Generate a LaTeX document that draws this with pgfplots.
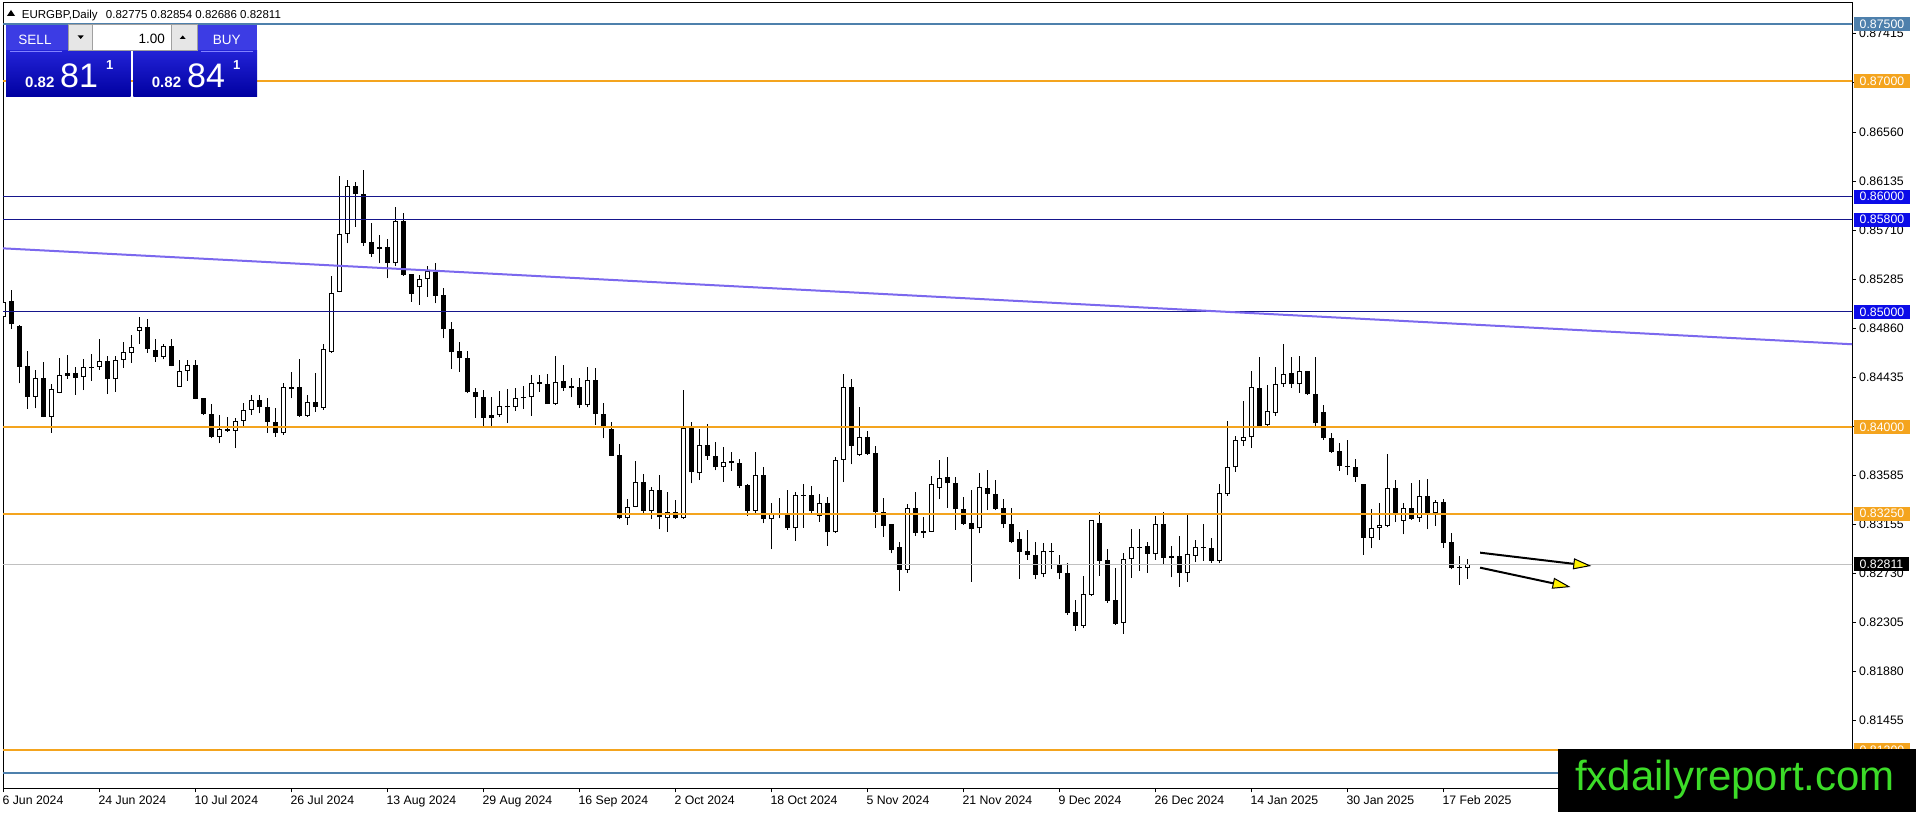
\documentclass[border=0pt]{standalone}
\usepackage{fontspec}
\setmainfont{Liberation Sans}
\usepackage{pgfplots}
\pgfplotsset{compat=1.18}
\usepackage{pgfplotstable}
\usetikzlibrary{arrows.meta}

\definecolor{lvlorange}{RGB}{244,164,30}
\definecolor{lvlnavy}{RGB}{22,22,140}
\definecolor{lvlblue}{RGB}{12,12,232}
\definecolor{steel}{RGB}{78,128,172}
\definecolor{trend}{RGB}{123,104,238}
\definecolor{bidgrey}{RGB}{192,192,192}
\definecolor{wmgreen}{RGB}{60,220,40}
\definecolor{paneltop}{RGB}{60,60,228}
\definecolor{panelmid}{RGB}{34,34,214}
\definecolor{panelbot}{RGB}{0,0,160}
\definecolor{panelline}{RGB}{130,130,255}
\definecolor{btngrey}{RGB}{230,230,230}
\definecolor{btnborder}{RGB}{160,160,160}

\newcommand{\tickfont}{\fontsize{12.3}{14}\selectfont}

\pgfplotstableread{
i O H L C
0 0.84959 0.85234 0.84948 0.85089
1 0.85095 0.85191 0.84852 0.84893
2 0.84878 0.84887 0.84381 0.84525
3 0.84531 0.84664 0.84158 0.84265
4 0.84265 0.84497 0.84164 0.84425
5 0.84428 0.84566 0.84085 0.84092
6 0.84092 0.84375 0.83953 0.84329
7 0.84300 0.84598 0.84294 0.84451
8 0.84448 0.84627 0.84419 0.84468
9 0.84468 0.84525 0.84280 0.84430
10 0.84434 0.84589 0.84323 0.84520
11 0.84525 0.84635 0.84404 0.84516
12 0.84525 0.84766 0.84497 0.84574
13 0.84574 0.84618 0.84288 0.84416
14 0.84416 0.84618 0.84308 0.84583
15 0.84583 0.84740 0.84516 0.84650
16 0.84647 0.84801 0.84560 0.84694
17 0.84838 0.84954 0.84722 0.84867
18 0.84867 0.84936 0.84647 0.84676
19 0.84673 0.84763 0.84568 0.84612
20 0.84612 0.84722 0.84589 0.84705
21 0.84705 0.84766 0.84528 0.84531
22 0.84352 0.84583 0.84350 0.84486
23 0.84486 0.84583 0.84404 0.84537
24 0.84537 0.84583 0.84242 0.84248
25 0.84254 0.84258 0.84105 0.84113
26 0.84115 0.84201 0.83904 0.83918
27 0.83918 0.84107 0.83861 0.83985
28 0.83982 0.84087 0.83961 0.83967
29 0.83970 0.84078 0.83818 0.84057
30 0.84057 0.84207 0.84005 0.84150
31 0.84150 0.84280 0.84107 0.84236
32 0.84236 0.84280 0.84121 0.84173
33 0.84173 0.84251 0.83953 0.84048
34 0.84048 0.84164 0.83918 0.83947
35 0.83947 0.84381 0.83933 0.84352
36 0.84352 0.84480 0.84251 0.84329
37 0.84352 0.84592 0.84092 0.84098
38 0.84101 0.84280 0.84092 0.84216
39 0.84216 0.84468 0.84135 0.84173
40 0.84169 0.84722 0.84150 0.84676
41 0.84655 0.85312 0.84647 0.85162
42 0.85176 0.86179 0.85170 0.85676
43 0.85676 0.86145 0.85595 0.86093
44 0.86093 0.86130 0.85740 0.86021
45 0.86021 0.86231 0.85572 0.85601
46 0.85607 0.85769 0.85480 0.85503
47 0.85544 0.85668 0.85422 0.85561
48 0.85561 0.85630 0.85292 0.85422
49 0.85422 0.85913 0.85399 0.85792
50 0.85792 0.85855 0.85315 0.85321
51 0.85327 0.85330 0.85089 0.85154
52 0.85214 0.85321 0.85061 0.85286
53 0.85286 0.85399 0.85133 0.85355
54 0.85349 0.85422 0.85075 0.85141
55 0.85147 0.85206 0.84772 0.84850
56 0.84850 0.84910 0.84506 0.84650
57 0.84661 0.84737 0.84482 0.84598
58 0.84598 0.84661 0.84294 0.84303
59 0.84303 0.84338 0.84083 0.84260
60 0.84260 0.84323 0.84005 0.84083
61 0.84083 0.84260 0.83991 0.84107
62 0.84107 0.84314 0.84087 0.84184
63 0.84184 0.84329 0.84040 0.84173
64 0.84173 0.84338 0.84144 0.84251
65 0.84260 0.84361 0.84158 0.84251
66 0.84260 0.84454 0.84101 0.84381
67 0.84390 0.84454 0.84308 0.84373
68 0.84375 0.84460 0.84201 0.84201
69 0.84201 0.84618 0.84193 0.84390
70 0.84399 0.84540 0.84317 0.84338
71 0.84338 0.84425 0.84260 0.84358
72 0.84349 0.84425 0.84169 0.84193
73 0.84193 0.84525 0.84173 0.84410
74 0.84410 0.84512 0.84020 0.84113
75 0.84113 0.84207 0.83904 0.83991
76 0.83985 0.84048 0.83750 0.83754
77 0.83760 0.83855 0.83202 0.83210
78 0.83210 0.83378 0.83153 0.83311
79 0.83311 0.83707 0.83305 0.83523
80 0.83523 0.83592 0.83259 0.83276
81 0.83276 0.83479 0.83202 0.83456
82 0.83456 0.83586 0.83115 0.83219
83 0.83210 0.83436 0.83094 0.83267
84 0.83267 0.83369 0.83205 0.83210
85 0.83210 0.84323 0.83205 0.83991
86 0.83991 0.84043 0.83514 0.83609
87 0.83600 0.83985 0.83543 0.83846
88 0.83846 0.84028 0.83716 0.83754
89 0.83754 0.83870 0.83627 0.83653
90 0.83653 0.83832 0.83528 0.83701
91 0.83705 0.83788 0.83623 0.83687
92 0.83687 0.83724 0.83471 0.83491
93 0.83497 0.83508 0.83233 0.83276
94 0.83276 0.83783 0.83259 0.83583
95 0.83583 0.83653 0.83167 0.83202
96 0.83202 0.83340 0.82941 0.83248
97 0.83245 0.83383 0.83210 0.83236
98 0.83239 0.83456 0.83109 0.83123
99 0.83123 0.83436 0.83016 0.83413
100 0.83407 0.83505 0.83129 0.83413
101 0.83413 0.83491 0.83248 0.83276
102 0.83230 0.83419 0.83181 0.83340
103 0.83340 0.83392 0.82972 0.83089
104 0.83089 0.83745 0.83083 0.83716
105 0.83716 0.84462 0.83523 0.84346
106 0.84346 0.84419 0.83679 0.83840
107 0.83760 0.84178 0.83754 0.83913
108 0.83913 0.83967 0.83760 0.83766
109 0.83775 0.83837 0.83129 0.83262
110 0.83267 0.83389 0.83051 0.83146
111 0.83161 0.83165 0.82906 0.82935
112 0.82959 0.83002 0.82582 0.82762
113 0.82762 0.83334 0.82739 0.83297
114 0.83297 0.83436 0.83060 0.83086
115 0.83100 0.83225 0.83042 0.83086
116 0.83094 0.83577 0.83090 0.83505
117 0.83471 0.83716 0.83375 0.83557
118 0.83566 0.83740 0.83302 0.83514
119 0.83514 0.83566 0.83109 0.83288
120 0.83288 0.83392 0.83153 0.83161
121 0.83167 0.83456 0.82660 0.83115
122 0.83123 0.83600 0.83080 0.83479
123 0.83471 0.83629 0.83282 0.83419
124 0.83419 0.83543 0.83282 0.83291
125 0.83297 0.83375 0.83129 0.83158
126 0.83161 0.83297 0.82993 0.83007
127 0.83028 0.83089 0.82684 0.82921
128 0.82927 0.83109 0.82849 0.82892
129 0.82892 0.83007 0.82681 0.82719
130 0.82724 0.82993 0.82698 0.82929
131 0.82929 0.82993 0.82771 0.82918
132 0.82805 0.82892 0.82681 0.82733
133 0.82733 0.82820 0.82372 0.82386
134 0.82395 0.82502 0.82235 0.82278
135 0.82278 0.82710 0.82256 0.82551
136 0.82545 0.83196 0.82536 0.83193
137 0.83167 0.83262 0.82713 0.82843
138 0.82849 0.82941 0.82479 0.82496
139 0.82502 0.82777 0.82285 0.82294
140 0.82305 0.82912 0.82207 0.82858
141 0.82854 0.83115 0.82695 0.82959
142 0.82964 0.83115 0.82756 0.82956
143 0.82970 0.83007 0.82739 0.82903
144 0.82898 0.83233 0.82849 0.83158
145 0.83158 0.83267 0.82805 0.82864
146 0.82881 0.82972 0.82698 0.82868
147 0.82881 0.83060 0.82617 0.82739
148 0.82733 0.83239 0.82660 0.82898
149 0.82887 0.83022 0.82834 0.82964
150 0.82959 0.83161 0.82840 0.82950
151 0.82950 0.83036 0.82826 0.82840
152 0.82843 0.83505 0.82820 0.83427
153 0.83421 0.84054 0.83406 0.83653
154 0.83653 0.83924 0.83614 0.83890
155 0.83884 0.84228 0.83837 0.83913
156 0.83913 0.84491 0.83818 0.84346
157 0.84338 0.84606 0.84005 0.84011
158 0.84020 0.84367 0.84014 0.84141
159 0.84127 0.84525 0.84101 0.84375
160 0.84373 0.84722 0.84352 0.84462
161 0.84473 0.84606 0.84343 0.84373
162 0.84373 0.84618 0.84300 0.84488
163 0.84488 0.84490 0.84282 0.84285
164 0.84285 0.84606 0.84011 0.84034
165 0.84130 0.84193 0.83890 0.83904
166 0.83904 0.83947 0.83779 0.83788
167 0.83794 0.83861 0.83623 0.83664
168 0.83666 0.83890 0.83582 0.83655
169 0.83653 0.83724 0.83528 0.83571
170 0.83508 0.83510 0.82892 0.83042
171 0.83042 0.83288 0.82950 0.83123
172 0.83123 0.83343 0.83022 0.83153
173 0.83144 0.83768 0.83132 0.83471
174 0.83471 0.83543 0.83178 0.83254
175 0.83190 0.83340 0.83071 0.83297
176 0.83297 0.83519 0.83196 0.83204
177 0.83210 0.83543 0.83181 0.83404
178 0.83404 0.83549 0.83115 0.83254
179 0.83254 0.83369 0.83144 0.83354
180 0.83354 0.83378 0.82955 0.82999
181 0.83002 0.83080 0.82768 0.82777
182 0.82788 0.82883 0.82632 0.82777
183 0.82775 0.82854 0.82686 0.82811
}\candles

\begin{document}
\begin{tikzpicture}
\useasboundingbox (0pt,0pt) rectangle (1916pt,812pt);
\fill[white] (0pt,0pt) rectangle (1916pt,812pt);
\begin{axis}[
  at={(3pt,23.7pt)}, anchor=south west,
  scale only axis, width=1849pt, height=785.6pt,
  xmin=-0.04, xmax=231.09, ymin=0.80868, ymax=0.87683,
  axis line style={line width=1pt, black},
  xtick={0,12,...,180},
  xticklabels={6 Jun 2024,24 Jun 2024,10 Jul 2024,26 Jul 2024,13 Aug 2024,29 Aug 2024,16 Sep 2024,2 Oct 2024,18 Oct 2024,5 Nov 2024,21 Nov 2024,9 Dec 2024,26 Dec 2024,14 Jan 2025,30 Jan 2025,17 Feb 2025},
  ytick={0.87415,0.86990,0.86560,0.86135,0.85710,0.85285,0.84860,0.84435,0.84010,0.83585,0.83155,0.82730,0.82305,0.81880,0.81455},
  yticklabels={0.87415,0.86990,0.86560,0.86135,0.85710,0.85285,0.84860,0.84435,0.84010,0.83585,0.83155,0.82730,0.82305,0.81880,0.81455},
  extra y ticks={0.81030}, extra y tick labels={},
  xtick pos=left, ytick pos=right,
  tick align=outside, major tick length=4pt,
  tick style={black, line width=1pt},
  xticklabel style={font=\tickfont, anchor=north west, inner sep=0pt, xshift=-1pt, yshift=-3.4pt},
  yticklabel style={font=\tickfont, anchor=west, inner sep=0pt, xshift=3pt},
  clip=true,
]
% candles: wicks
\addplot[black, line width=1pt, quiver={u=0, v=\thisrow{H}-\thisrow{L}, every arrow/.style={-}}]
  table[x=i, y=L] {\candles};
% bear bodies
\addplot[black, line width=5pt, quiver={u=0, v=\thisrow{O}-\thisrow{C}, every arrow/.style={-}},
  y filter/.expression={\thisrow{C}<\thisrow{O} ? y : nan}]
  table[x=i, y=C] {\candles};
% bull bodies (outline)
\addplot[black, line width=5pt, quiver={u=0, v=\thisrow{C}-\thisrow{O}, every arrow/.style={-}},
  y filter/.expression={\thisrow{C}<\thisrow{O} ? nan : y}]
  table[x=i, y=O] {\candles};
% bull bodies (white inside)
\addplot[white, line width=3pt, quiver={u=0, v=\thisrow{C}-\thisrow{O}, every arrow/.style={-, shorten <=1pt, shorten >=1pt}},
  y filter/.expression={\thisrow{C}-\thisrow{O}>0.00025 ? y : nan}]
  table[x=i, y=O] {\candles};

% horizontal levels
\addplot[steel, line width=2pt] coordinates {(-1,0.875) (232,0.875)};
\addplot[lvlorange, line width=2pt] coordinates {(-1,0.87) (232,0.87)};
\addplot[lvlnavy, line width=1pt] coordinates {(-1,0.86) (232,0.86)};
\addplot[lvlnavy, line width=1pt] coordinates {(-1,0.858) (232,0.858)};
\addplot[lvlnavy, line width=1pt] coordinates {(-1,0.85) (232,0.85)};
\addplot[lvlorange, line width=2pt] coordinates {(-1,0.84) (232,0.84)};
\addplot[lvlorange, line width=2pt] coordinates {(-1,0.8325) (232,0.8325)};
\addplot[bidgrey, line width=1pt] coordinates {(-1,0.82811) (232,0.82811)};
\addplot[lvlorange, line width=2pt] coordinates {(-1,0.812) (232,0.812)};
\addplot[steel, line width=2pt] coordinates {(-1,0.81) (232,0.81)};
% trend line
\addplot[trend, line width=2pt] coordinates {(-0.04,0.85552) (231.09,0.84720)};
% arrows
\addplot[black, line width=2pt, -{Triangle[length=18pt,width=11pt,fill=yellow,line width=1pt]}]
  coordinates {(184.6,0.82912) (198.5,0.82797)};
\addplot[black, line width=2pt, -{Triangle[length=18pt,width=11pt,fill=yellow,line width=1pt]}]
  coordinates {(184.6,0.82782) (195.9,0.82614)};

\coordinate (b875) at (axis cs:231.09,0.875);
\coordinate (b870) at (axis cs:231.09,0.870);
\coordinate (b860) at (axis cs:231.09,0.860);
\coordinate (b858) at (axis cs:231.09,0.858);
\coordinate (b850) at (axis cs:231.09,0.850);
\coordinate (b840) at (axis cs:231.09,0.840);
\coordinate (b8325) at (axis cs:231.09,0.8325);
\coordinate (bbid) at (axis cs:231.09,0.82811);
\coordinate (b812) at (axis cs:231.09,0.812);
\end{axis}

\tikzset{boxlbl/.style={anchor=west, font=\tickfont, text=white, inner xsep=5.5pt, inner ysep=0pt, minimum height=14pt}}
\node[boxlbl, fill=steel] at ([xshift=2pt]b875) {0.87500};
\node[boxlbl, fill=lvlorange] at ([xshift=2pt]b870) {0.87000};
\node[boxlbl, fill=lvlblue] at ([xshift=2pt]b860) {0.86000};
\node[boxlbl, fill=lvlblue] at ([xshift=2pt]b858) {0.85800};
\node[boxlbl, fill=lvlblue] at ([xshift=2pt]b850) {0.85000};
\node[boxlbl, fill=lvlorange] at ([xshift=2pt]b840) {0.84000};
\node[boxlbl, fill=lvlorange] at ([xshift=2pt]b8325) {0.83250};
\node[boxlbl, fill=black] at ([xshift=2pt]bbid) {0.82811};
\node[boxlbl, fill=lvlorange] at ([xshift=2pt]b812) {0.81200};

\begin{scope}[x=1pt,y=1pt]
% trade panel
\fill[paneltop] (6,787) rectangle (130.7,761);
\shade[top color=panelmid, bottom color=panelbot] (6,761) rectangle (130.7,715);
\fill[paneltop] (133.3,787) rectangle (257,761);
\shade[top color=panelmid, bottom color=panelbot] (133.3,761) rectangle (257,715);
\draw[panelline, line width=1pt] (10,760.5) -- (62,760.5);
\draw[panelline, line width=1pt] (201,760.5) -- (253,760.5);
\fill[white] (68.3,787) rectangle (197.7,761);
\fill[btngrey] (68.3,787) rectangle (92.7,761);
\fill[btngrey] (171.7,787) rectangle (197.7,761);
\draw[btnborder, line width=1pt] (68.3,787) rectangle (197.7,761);
\draw[btnborder, line width=1pt] (92.7,787) -- (92.7,761) (171.7,787) -- (171.7,761);
\fill[black] (77.7,776.5) -- (83.7,776.5) -- (80.7,773) -- cycle;
\fill[black] (179.7,773) -- (185.7,773) -- (182.7,776.5) -- cycle;
\node[anchor=base east, inner sep=0pt, font=\fontsize{13.5}{15}\selectfont] at (165,768.7) {1.00};
\node[anchor=base, inner sep=0pt, text=white, font=\fontsize{13.5}{15}\selectfont] at (35,767) {SELL};
\node[anchor=base, inner sep=0pt, text=white, font=\fontsize{13.5}{15}\selectfont] at (226.7,767) {BUY};
\node[anchor=base west, inner sep=0pt, text=white, font=\bfseries\fontsize{15}{17}\selectfont] at (25,724.7) {0.82};
\node[anchor=base west, inner sep=0pt, text=white, font=\fontsize{34}{38}\selectfont] at (60,724.7) {81};
\node[anchor=base west, inner sep=0pt, text=white, font=\bfseries\fontsize{13}{15}\selectfont] at (106,742) {1};
\node[anchor=base west, inner sep=0pt, text=white, font=\bfseries\fontsize{15}{17}\selectfont] at (151.7,724.7) {0.82};
\node[anchor=base west, inner sep=0pt, text=white, font=\fontsize{34}{38}\selectfont] at (187,724.7) {84};
\node[anchor=base west, inner sep=0pt, text=white, font=\bfseries\fontsize{13}{15}\selectfont] at (233,742) {1};
% title
\fill[black] (7,796) -- (15,796) -- (11,802) -- cycle;
\node[anchor=base west, inner sep=0pt, font=\fontsize{11.5}{14}\selectfont] at (21.7,793.7) {EURGBP,Daily\hspace{5pt} 0.82775 0.82854 0.82686 0.82811};
% watermark
\fill[black] (1558,0) rectangle (1916,63);
\node[anchor=base west, inner sep=0pt, text=wmgreen, font=\fontsize{42}{48}\selectfont] at (1575,22) {fxdailyreport.com};
\end{scope}
\end{tikzpicture}
\end{document}
